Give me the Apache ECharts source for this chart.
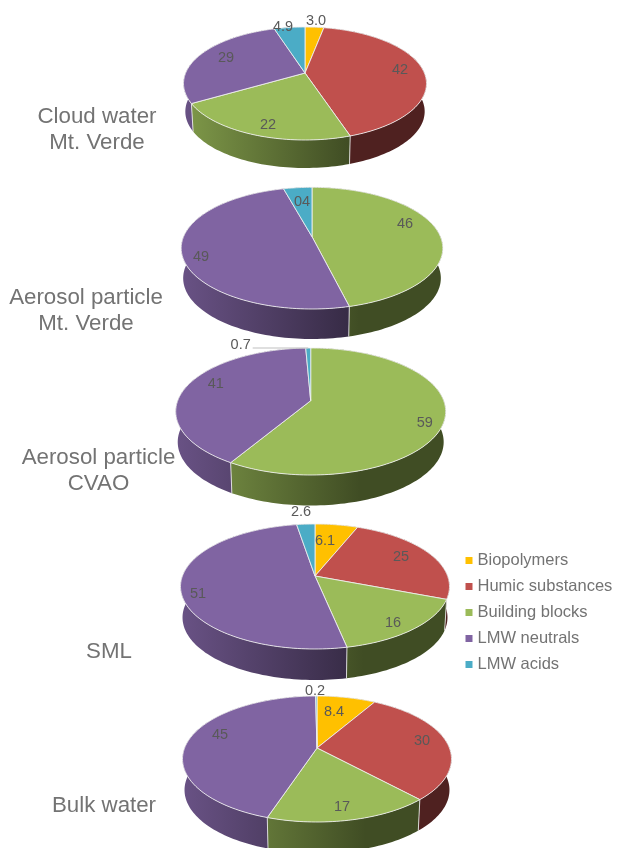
<!DOCTYPE html>
<html>
<head>
<meta charset="utf-8">
<style>
  html, body { margin: 0; padding: 0; background: #fff; }
  #chart { width: 617px; height: 848px; }
</style>
<script src="https://cdn.jsdelivr.net/npm/echarts@6/dist/echarts.min.js"></script>
</head>
<body>
<div id="chart"></div>
<script>
// one value per pie, top to bottom
const sites = ['Cloud water\nMt. Verde', 'Aerosol particle\nMt. Verde', 'Aerosol particle\nCVAO', 'SML', 'Bulk water']
const categories = ['Biopolymers', 'Humic substances', 'Building blocks', 'LMW neutrals', 'LMW acids']
const biopolymers = [3.0, 0, 0, 6.1, 8.4]
const humic = [42, 0, 0, 25, 30]
const building = [21.6, 46, 59, 16, 17]
const neutrals = [28.6, 49.4, 41, 51, 45]
const acids = [4.9, 4.2, 0.7, 2.6, 0.2]
const seriesValues = [biopolymers, humic, building, neutrals, acids]

// printed as in the figure, so '04' stays '04'
const biopolymerLabels = ['3.0', '', '', '6.1', '8.4']
const humicLabels = ['42', '', '', '25', '30']
const buildingLabels = ['22', '46', '59', '16', '17']
const neutralLabels = ['29', '49', '41', '51', '45']
const acidLabels = ['4.9', '04', '0.7', '2.6', '0.2']
const seriesLabels = [biopolymerLabels, humicLabels, buildingLabels, neutralLabels, acidLabels]

const colors = ['#FFC000', '#C0504D', '#9BBB59', '#8064A2', '#4BACC6']

// pie geometry on the page: centre point, rim distance behind/in front of it, half width, wall height
const pieLayout = [
  { cx: 305, cy: 73, back: 46, front: 67, halfW: 121.5, wall: 28 },
  { cx: 312, cy: 236.7, back: 49.4, front: 72.3, halfW: 130.8, wall: 30 },
  { cx: 310.7, cy: 400.7, back: 52.7, front: 74.3, halfW: 135, wall: 30.5 },
  { cx: 315, cy: 576, back: 52, front: 73, halfW: 134.5, wall: 31 },
  { cx: 317, cy: 748, back: 52, front: 74, halfW: 134.5, wall: 31 }
]

// label offset from the pie centre, by category then by pie
const labelOffsets = [
  [[11, -52], null, null, [10, -35], [17, -36]],
  [[95, -3], null, null, [86, -19], [105, -7]],
  [[-37, 52], [93, -13], [114, 22], [78, 47], [25, 59]],
  [[-79, -15], [-111, 20], [-95, -17], [-117, 18], [-97, -13]],
  [[-22, -46], [-10, -35], [-70, -56], [-14, -64], [-2, -57]]
]

// site captions: centre x, centre y of the first line
const captionLayout = [[97, 117], [86, 298], [98.5, 458], [109, 652], [104, 806]]

const FONT = '"Liberation Sans", Arial, sans-serif'

function projector(p) {
  const k = (p.front - p.back) / (p.front + p.back)
  const b = p.back * (1 + k)
  const a = p.halfW * Math.sqrt(1 - k * k)
  // r is a fraction of the radius, turn is a fraction of the circle clockwise from 12 o'clock
  return function (r, turn) {
    const t = turn * Math.PI * 2
    const w = 1 + k * r * Math.cos(t)
    return [p.cx + a * r * Math.sin(t) / w, p.cy - b * r * Math.cos(t) / w]
  }
}

function shade(hex, f) {
  const n = parseInt(hex.slice(1), 16)
  const c = [n >> 16, (n >> 8) & 255, n & 255].map(v => Math.round(v * f))
  return 'rgb(' + c.join(',') + ')'
}

function renderSlice(params, api) {
  const cat = params.seriesIndex
  const pie = params.dataIndex
  const value = api.value(0)
  if (!value) return { type: 'group', children: [] }

  const p = pieLayout[pie]
  const project = projector(p)
  let total = 0
  let before = 0
  seriesValues.forEach((vals, i) => {
    total += vals[pie]
    if (i < cat) before += vals[pie]
  })
  const start = before / total
  const end = (before + value) / total

  const steps = Math.max(2, Math.ceil((end - start) * 240))
  const rim = []
  for (let i = 0; i <= steps; i++) rim.push(project(1, start + (end - start) * i / steps))
  const lower = pt => [p.cx + (pt[0] - p.cx) * 0.985, pt[1] + p.wall]

  const children = []
  children.push({
    type: 'polygon',
    z2: 1,
    shape: { points: rim.concat(rim.map(lower).reverse()) },
    style: {
      fill: {
        type: 'linear',
        global: true,
        x: p.cx - p.halfW,
        y: 0,
        x2: p.cx + p.halfW,
        y2: 0,
        colorStops: [
          { offset: 0, color: shade(colors[cat], 0.82) },
          { offset: 0.68, color: shade(colors[cat], 0.41) },
          { offset: 1, color: shade(colors[cat], 0.41) }
        ]
      }
    }
  })
  // seam between neighbouring walls
  if (rim[0][1] > p.cy) {
    const bottom = lower(rim[0])
    children.push({
      type: 'line',
      z2: 2,
      shape: { x1: rim[0][0], y1: rim[0][1], x2: bottom[0], y2: bottom[1] },
      style: { stroke: 'rgba(235,235,235,0.85)', lineWidth: 1 }
    })
  }
  children.push({
    type: 'polygon',
    z2: 3,
    shape: { points: [[p.cx, p.cy]].concat(rim) },
    style: { fill: colors[cat], stroke: 'rgba(240,240,240,0.85)', lineWidth: 1, lineJoin: 'round' }
  })

  const off = labelOffsets[cat][pie]
  const lx = p.cx + off[0]
  const ly = p.cy + off[1]
  children.push({
    type: 'text',
    z2: 5,
    style: {
      x: lx,
      y: ly,
      text: seriesLabels[cat][pie],
      fill: '#595959',
      font: '14.5px ' + FONT,
      align: 'center',
      verticalAlign: 'middle'
    }
  })
  // the 0.7 slice is too thin to hold its label, so it gets a leader
  if (end - start < 0.01 && off[0] < -40) {
    const tip = project(1, (start + end) / 2)
    children.push({
      type: 'line',
      z2: 4,
      shape: { x1: lx + 12, y1: tip[1], x2: tip[0], y2: tip[1] },
      style: { stroke: '#bfbfbf', lineWidth: 1 }
    })
  }
  return { type: 'group', children: children }
}

const chart = echarts.init(document.getElementById('chart'), null, { renderer: 'canvas' })
chart.setOption({
  animation: false,
  legend: {
    show: true,
    left: 460.5,
    top: 547,
    orient: 'vertical',
    icon: 'rect',
    itemWidth: 7,
    itemHeight: 7,
    itemGap: 9,
    selectedMode: false,
    data: categories,
    textStyle: { color: '#737373', fontSize: 16.5, fontFamily: FONT }
  },
  graphic: captionLayout.map((c, i) => ({
    type: 'text',
    x: c[0],
    y: c[1] - 13,
    style: {
      text: sites[i],
      fill: '#737373',
      font: '22.3px ' + FONT,
      lineHeight: 26,
      align: 'center',
      verticalAlign: 'top'
    }
  })),
  series: categories.map((name, i) => ({
    type: 'custom',
    name: name,
    coordinateSystem: 'none',
    itemStyle: { color: colors[i] },
    renderItem: renderSlice,
    data: seriesValues[i].map(v => [v])
  }))
})
</script>
</body>
</html>
